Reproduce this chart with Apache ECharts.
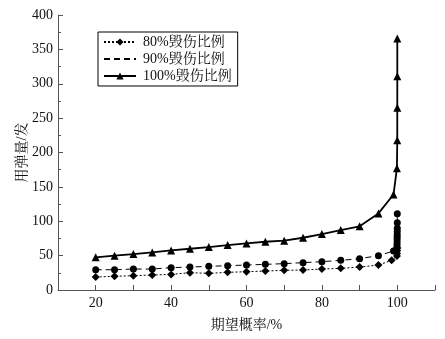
<!DOCTYPE html>
<html>
<head>
<meta charset="utf-8">
<script src="https://cdn.jsdelivr.net/npm/echarts@6/dist/echarts.min.js"></script>
<style>
  html, body { margin: 0; padding: 0; background: #fff; }
  #chart { width: 445px; height: 339px; }
</style>
</head>
<body>
<div id="chart"></div>
<script>
// Ammunition consumption vs. expected probability for three damage ratios
const seriesNames = ['80%毁伤比例', '90%毁伤比例', '100%毁伤比例'];

const dmg80X = [20, 25, 30, 35, 40, 45, 50, 55, 60, 65, 70, 75, 80, 85, 90, 95, 98.5, 99.9, 99.93, 99.96, 99.99];
const dmg80Y = [18.9, 19.9, 20.8, 21.8, 22.7, 25.2, 24.2, 25.7, 26.6, 27.6, 28.6, 29.1, 30.5, 31.5, 33.4, 36.3, 43.1, 49.4, 53, 57, 61];

const dmg90X = [20, 25, 30, 35, 40, 45, 50, 55, 60, 65, 70, 75, 80, 85, 90, 95, 99, 99.9, 99.92, 99.94, 99.95, 99.96, 99.97, 99.98, 99.99, 99.995, 99.999];
const dmg90Y = [29.5, 29.5, 30.5, 30.5, 32.5, 33.4, 34.4, 35.4, 36.3, 37.3, 38.3, 39.8, 41.2, 43.1, 45.6, 50, 56.7, 60.5, 64.5, 68.5, 72.7, 76.6, 80.5, 85, 90, 98, 111];

const dmg100X = [20, 25, 30, 35, 40, 45, 50, 55, 60, 65, 70, 75, 80, 85, 90, 95, 99, 99.9, 99.99, 99.999, 99.9999, 99.99999];
const dmg100Y = [47.5, 50, 52.3, 54.7, 57.6, 60, 62.5, 65.4, 67.8, 70.2, 71.7, 76, 81.4, 87.2, 92.6, 111.4, 139, 177, 218, 265, 311, 366];

const xTicks = [20, 40, 60, 80, 100];
const yTicks = [0, 50, 100, 150, 200, 250, 300, 350, 400];

const FONT = "'Liberation Serif', 'Noto Serif CJK SC', 'Noto Sans CJK SC', serif";
const INK = '#111';
const AXIS = '#555';

function pairs(xs, ys) {
  return xs.map((x, i) => [x, ys[i]]);
}

const chart = echarts.init(document.getElementById('chart'), null, { renderer: 'canvas' });

chart.setOption({
  animation: false,
  backgroundColor: '#fff',
  textStyle: { fontFamily: FONT, color: INK },
  grid: { left: 58, right: 10, top: 15, bottom: 49, containLabel: false },
  legend: {
    left: 98,
    top: 32,
    orient: 'vertical',
    padding: [3, 6, 3, 5],
    borderColor: '#000',
    borderWidth: 1,
    itemWidth: 32,
    itemHeight: 9,
    itemGap: 3,
    textStyle: { fontFamily: FONT, fontSize: 14, color: INK, padding: [0, 0, 0, 2] },
    data: [
      { name: seriesNames[0] },
      { name: seriesNames[1], itemStyle: { opacity: 0 } },
      { name: seriesNames[2] }
    ]
  },
  xAxis: {
    type: 'value',
    min: 10,
    max: 110,
    interval: 10,
    name: '期望概率/%',
    nameLocation: 'middle',
    nameGap: 28,
    nameMoveOverlap: false,
    nameTextStyle: { fontFamily: FONT, fontSize: 14, color: INK },
    axisLine: { lineStyle: { color: AXIS, width: 1 } },
    axisTick: { inside: true, length: 5, lineStyle: { color: AXIS } },
    axisLabel: {
      fontFamily: FONT, fontSize: 14, color: INK, margin: 6,
      formatter: v => (xTicks.indexOf(v) >= 0 ? String(v) : '')
    },
    splitLine: { show: false }
  },
  yAxis: {
    type: 'value',
    min: yTicks[0],
    max: yTicks[yTicks.length - 1],
    interval: 50,
    name: '用弹量/发',
    nameLocation: 'middle',
    nameGap: 29,
    nameRotate: 90,
    nameMoveOverlap: false,
    nameTextStyle: { fontFamily: FONT, fontSize: 14, color: INK },
    axisLine: { show: true, lineStyle: { color: AXIS, width: 1 } },
    axisTick: { show: true, inside: true, length: 5, lineStyle: { color: AXIS } },
    minorTick: { show: true, splitNumber: 2, length: 3, lineStyle: { color: AXIS } },
    axisLabel: { fontFamily: FONT, fontSize: 14, color: INK, margin: 5 },
    splitLine: { show: false }
  },
  series: [
    {
      name: seriesNames[0],
      type: 'line',
      data: pairs(dmg80X, dmg80Y),
      symbol: 'diamond',
      symbolSize: 8,
      itemStyle: { color: '#000' },
      lineStyle: { color: '#000', width: 1, type: [2, 2] },
      z: 3
    },
    {
      name: seriesNames[1],
      type: 'line',
      data: pairs(dmg90X, dmg90Y),
      symbol: 'circle',
      symbolSize: 7,
      itemStyle: { color: '#000' },
      lineStyle: { color: '#000', width: 1, type: [6, 4] },
      z: 3
    },
    {
      name: seriesNames[2],
      type: 'line',
      data: pairs(dmg100X, dmg100Y),
      symbol: 'triangle',
      symbolSize: 8,
      itemStyle: { color: '#000' },
      lineStyle: { color: '#000', width: 1.8 },
      z: 4
    }
  ]
});
</script>
</body>
</html>
